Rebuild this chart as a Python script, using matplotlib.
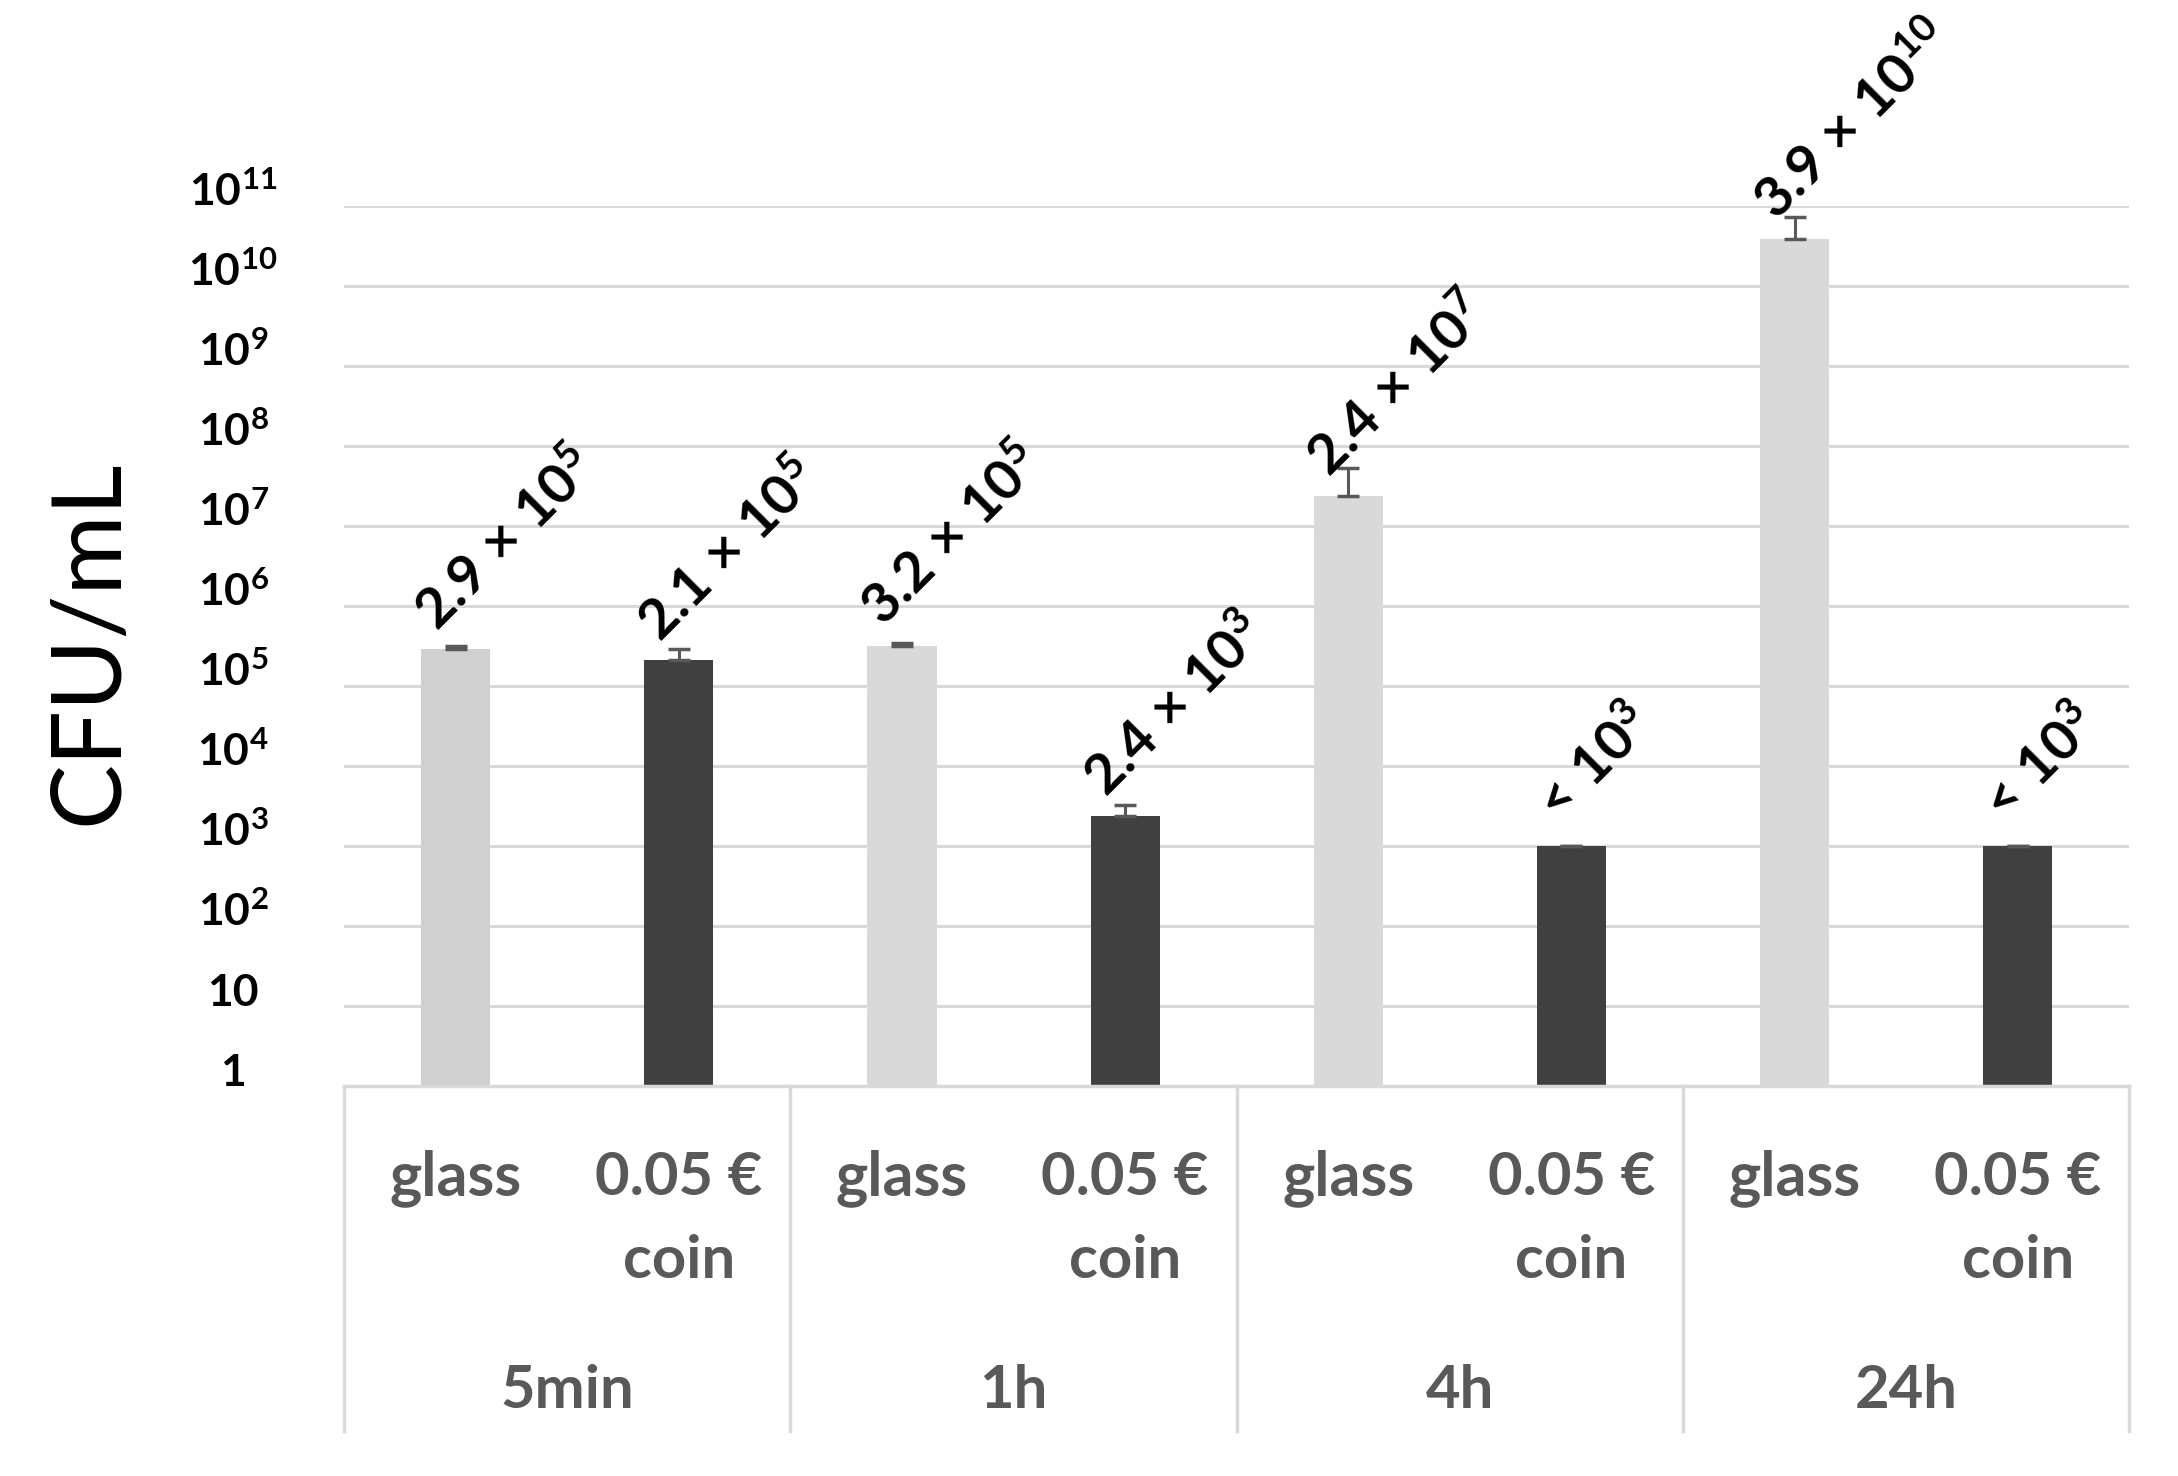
import numpy as np
import matplotlib
matplotlib.use("Agg")
import matplotlib.pyplot as plt

# Datos (UFC/mL)
grupos = ['5min', '1h', '4h', '24h']
superficie_1 = 'glass'
superficie_2 = ['0.05 €', 'coin']

vidrio_cfu = [2.9e5, 3.2e5, 2.4e7, 3.9e10]
moneda_cfu = [2.1e5, 2.4e3, 1e3, 1e3]
vidrio_err = [0.3e5, 0.3e5, 2.9e7, 3.4e10]
moneda_err = [0.8e5, 0.9e3, 0, 0]

vidrio_etiq = [r'$\mathbf{2.9\,\times\,10^{5}}$', r'$\mathbf{3.2\,\times\,10^{5}}$',
               r'$\mathbf{2.4\,\times\,10^{7}}$', r'$\mathbf{3.9\,\times\,10^{10}}$']
moneda_etiq = [r'$\mathbf{2.1\,\times\,10^{5}}$', r'$\mathbf{2.4\,\times\,10^{3}}$',
               r'$\mathbf{<\,10^{3}}$', r'$\mathbf{<\,10^{3}}$']

vidrio_colores = ['#D0D0D0', '#D9D9D9', '#D9D9D9', '#D9D9D9']
color_moneda = '#404040'
color_error = '#595959'
color_rejilla = '#D9D9D9'
color_texto = '#595959'

plt.rcParams['font.family'] = ['Lato', 'DejaVu Sans']
plt.rcParams['mathtext.fontset'] = 'custom'
plt.rcParams['mathtext.rm'] = 'Lato'
plt.rcParams['mathtext.bf'] = 'Lato:bold'
plt.rcParams['mathtext.it'] = 'Lato:italic'
plt.rcParams['ytick.alignment'] = 'baseline'

fig = plt.figure(figsize=(21.78, 14.76), dpi=100)
ax = fig.add_axes([0.158, 0.2642, 0.8196, 0.5962])

x_vidrio = np.arange(len(grupos)) * 2
x_moneda = x_vidrio + 1
ancho = 0.31

ax.bar(x_vidrio, vidrio_cfu, width=ancho, color=vidrio_colores, zorder=2)
ax.bar(x_moneda, moneda_cfu, width=ancho, color=color_moneda, zorder=2)

# Barras de error (solo hacia arriba)
ax.errorbar(x_vidrio, vidrio_cfu, yerr=[np.zeros(4), vidrio_err], fmt='none',
            ecolor=color_error, elinewidth=2.2, capsize=8, capthick=2.5, zorder=3)
ax.errorbar(x_moneda, moneda_cfu, yerr=[np.zeros(4), moneda_err], fmt='none',
            ecolor=color_error, elinewidth=2.2, capsize=8, capthick=2.5, zorder=3)

# Etiquetas de datos rotadas
for xs, vals, etiqs in [(x_vidrio, vidrio_cfu, vidrio_etiq), (x_moneda, moneda_cfu, moneda_etiq)]:
    for xi, v, t in zip(xs, vals, etiqs):
        ax.text(xi - 0.05, v * 10 ** 0.12, t, rotation=45, rotation_mode='anchor',
                ha='left', va='bottom', fontsize=40, color='black', zorder=4)

ax.set_yscale('log')
ax.set_ylim(1, 1e11)
ax.set_xlim(-0.5, 7.5)

ticks = [10.0 ** k for k in range(12)]
etiq_ticks = ['1', '10'] + [r'$\mathbf{10^{%d}}$' % k for k in range(2, 12)]
ax.set_yticks(ticks)
ax.set_yticklabels(etiq_ticks)
ax.yaxis.set_minor_locator(matplotlib.ticker.NullLocator())
ax.tick_params(axis='y', length=0, pad=80, labelsize=32)
for lbl in ax.get_yticklabels():
    lbl.set_ha('center')
    lbl.set_fontweight('bold')
ax.set_xticks([])

ax.grid(axis='y', color=color_rejilla, linewidth=2.2, zorder=0)
for s in ['top', 'right', 'left']:
    ax.spines[s].set_visible(False)
ax.spines['bottom'].set_color(color_rejilla)
ax.spines['bottom'].set_linewidth(2.5)

# Tabla de categorías bajo el eje
trans = ax.get_xaxis_transform()
for xd in [-0.5, 1.5, 3.5, 5.5, 7.5]:
    ax.plot([xd, xd], [0, -0.392], transform=trans, color=color_rejilla,
            linewidth=2.5, clip_on=False)
for i, g in enumerate(grupos):
    ax.text(x_vidrio[i], -0.105, superficie_1, transform=trans, ha='center', va='center',
            fontsize=44, fontweight='bold', color=color_texto)
    ax.text(x_moneda[i], -0.105, superficie_2[0], transform=trans, ha='center', va='center',
            fontsize=43, fontweight='bold', color=color_texto)
    ax.text(x_moneda[i], -0.199, superficie_2[1], transform=trans, ha='center', va='center',
            fontsize=43, fontweight='bold', color=color_texto)
    ax.text(x_vidrio[i] + 0.5, -0.347, g, transform=trans, ha='center', va='center',
            fontsize=43, fontweight='bold', color=color_texto)

fig.text(90 / 2178, 1 - 642 / 1476, 'CFU/mL', rotation=90, ha='center', va='center',
         fontsize=70, color='black')

fig.savefig('out.png', dpi=100, facecolor='white')
